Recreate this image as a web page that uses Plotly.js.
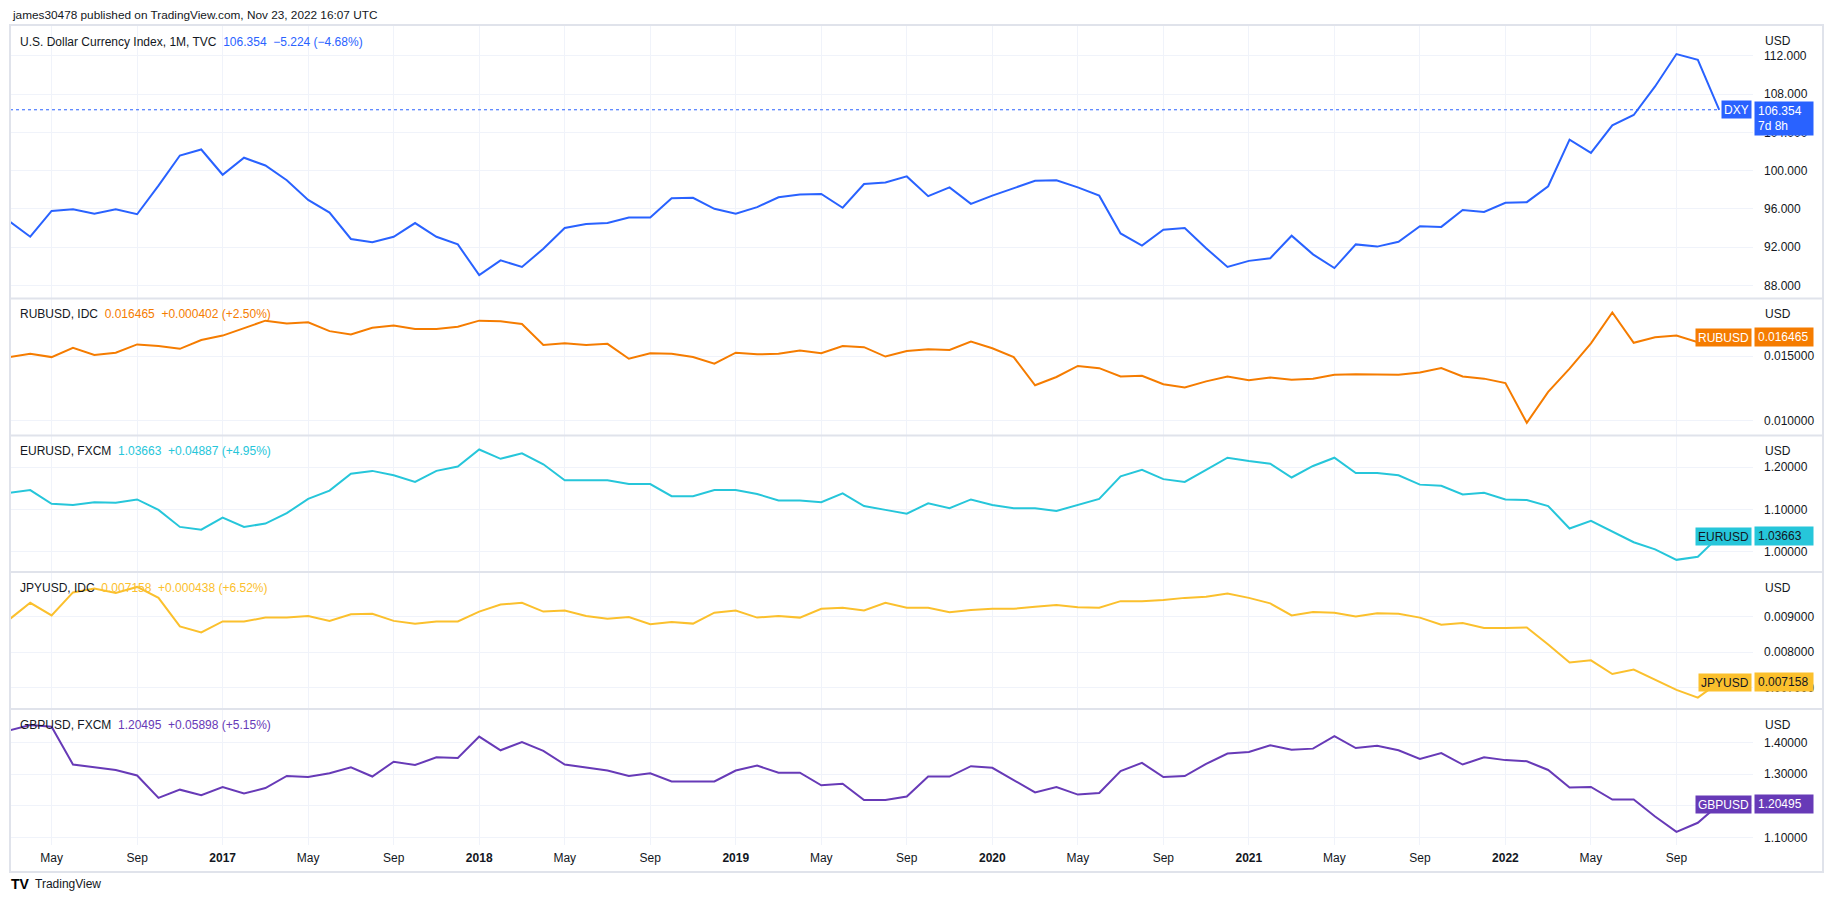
<!DOCTYPE html>
<html>
<head>
<meta charset="utf-8">
<script src="https://cdn.plot.ly/plotly-3.0.1.min.js"></script>
<style>html,body{margin:0;padding:0;background:#fff;}#chart{width:1834px;height:907px;}</style>
</head>
<body>
<div id="chart"></div>
<script>
// ---------- DATA ----------
const months = [
 '2016-03','2016-04','2016-05','2016-06','2016-07','2016-08','2016-09','2016-10','2016-11','2016-12',
 '2017-01','2017-02','2017-03','2017-04','2017-05','2017-06','2017-07','2017-08','2017-09','2017-10',
 '2017-11','2017-12','2018-01','2018-02','2018-03','2018-04','2018-05','2018-06','2018-07','2018-08',
 '2018-09','2018-10','2018-11','2018-12','2019-01','2019-02','2019-03','2019-04','2019-05','2019-06',
 '2019-07','2019-08','2019-09','2019-10','2019-11','2019-12','2020-01','2020-02','2020-03','2020-04',
 '2020-05','2020-06','2020-07','2020-08','2020-09','2020-10','2020-11','2020-12','2021-01','2021-02',
 '2021-03','2021-04','2021-05','2021-06','2021-07','2021-08','2021-09','2021-10','2021-11','2021-12',
 '2022-01','2022-02','2022-03','2022-04','2022-05','2022-06','2022-07','2022-08','2022-09','2022-10',
 '2022-11'];

const dxy = [
 94.76,93.10,95.79,95.96,95.50,95.96,95.45,98.43,101.58,102.21,
 99.57,101.35,100.54,99.00,96.94,95.62,92.87,92.53,93.10,94.53,
 93.10,92.30,89.09,90.63,89.95,91.84,94.01,94.42,94.53,95.10,
 95.10,97.11,97.16,96.02,95.50,96.19,97.22,97.51,97.57,96.13,
 98.60,98.77,99.40,97.34,98.25,96.53,97.39,98.14,98.94,99.00,
 98.25,97.39,93.44,92.18,93.84,94.01,91.90,89.95,90.58,90.86,
 93.21,91.26,89.83,92.30,92.07,92.58,94.19,94.13,95.90,95.68,
 96.65,96.71,98.37,103.24,101.86,104.73,105.81,108.79,112.17,111.578,
 106.354];

const rubusd = [
 0.014915,0.015171,0.014915,0.015641,0.015085,0.015256,0.015897,0.015769,0.015556,0.016239,
 0.016581,0.017137,0.017735,0.017521,0.017607,0.016923,0.016667,0.017179,0.017350,0.017094,
 0.017094,0.017265,0.017735,0.017692,0.017479,0.015855,0.015983,0.015855,0.015940,0.014786,
 0.015214,0.015171,0.014915,0.014402,0.015256,0.015128,0.015171,0.015427,0.015214,0.015769,
 0.015684,0.014957,0.015385,0.015513,0.015470,0.016111,0.015598,0.014915,0.012735,0.013376,
 0.014231,0.014060,0.013419,0.013462,0.012820,0.012564,0.013034,0.013419,0.013120,0.013333,
 0.013162,0.013248,0.013547,0.013590,0.013590,0.013547,0.013718,0.014060,0.013419,0.013248,
 0.012906,0.009829,0.012222,0.014017,0.015983,0.018376,0.016026,0.016453,0.016581,0.016063,
 0.016465];

const eurusd = [
 1.1390,1.1455,1.1130,1.1100,1.1170,1.1156,1.1234,1.0987,1.0584,1.0519,
 1.0805,1.0584,1.0662,1.0909,1.1247,1.1442,1.1844,1.1909,1.1805,1.1649,
 1.1909,1.2013,1.2416,1.2195,1.2325,1.2065,1.1688,1.1688,1.1688,1.1597,
 1.1597,1.1312,1.1312,1.1455,1.1455,1.1364,1.1208,1.1208,1.1169,1.1377,
 1.1078,1.0987,1.0896,1.1143,1.1026,1.1234,1.1104,1.1026,1.1026,1.0961,
 1.1104,1.1247,1.1779,1.1935,1.1714,1.1649,1.1935,1.2221,1.2143,1.2078,
 1.1753,1.2026,1.2221,1.1857,1.1857,1.1805,1.1584,1.1558,1.1351,1.1390,
 1.1234,1.1221,1.1078,1.0545,1.0727,1.0481,1.0221,1.0052,0.9805,0.98776,
 1.03663];

const jpyusd = [
 0.008908,0.009385,0.009031,0.009677,0.009785,0.009662,0.009831,0.009523,0.008723,0.008554,
 0.008862,0.008862,0.008969,0.008969,0.009015,0.008877,0.009062,0.009077,0.008877,0.008800,
 0.008862,0.008862,0.009138,0.009338,0.009385,0.009138,0.009169,0.009015,0.008938,0.008985,
 0.008785,0.008846,0.008800,0.009108,0.009169,0.008969,0.009015,0.008969,0.009215,0.009246,
 0.009169,0.009385,0.009246,0.009246,0.009123,0.009185,0.009215,0.009215,0.009277,0.009323,
 0.009262,0.009246,0.009431,0.009431,0.009462,0.009523,0.009554,0.009646,0.009523,0.009369,
 0.009031,0.009123,0.009108,0.009000,0.009092,0.009077,0.008969,0.008769,0.008815,0.008677,
 0.008677,0.008692,0.008215,0.007708,0.007769,0.007385,0.007508,0.007215,0.006938,0.006720,
 0.007158];

const gbpusd = [
 1.4381,1.4555,1.4503,1.3306,1.3220,1.3133,1.2959,1.2248,1.2509,1.2335,
 1.2595,1.2387,1.2561,1.2942,1.2907,1.3029,1.3220,1.2925,1.3393,1.3289,
 1.3532,1.3514,1.4191,1.3757,1.4017,1.3740,1.3306,1.3202,1.3116,1.2942,
 1.3029,1.2769,1.2769,1.2769,1.3116,1.3272,1.3046,1.3046,1.2647,1.2699,
 1.2179,1.2179,1.2292,1.2925,1.2925,1.3254,1.3202,1.2821,1.2422,1.2595,
 1.2353,1.2405,1.3098,1.3358,1.2907,1.2942,1.3324,1.3653,1.3705,1.3913,
 1.3774,1.3809,1.4208,1.3826,1.3896,1.3757,1.3480,1.3670,1.3306,1.3532,
 1.3445,1.3410,1.3133,1.2578,1.2595,1.2196,1.2196,1.1659,1.1173,1.14597,
 1.20495];

const xTickVals = ['2016-05','2016-09','2017-01','2017-05','2017-09','2018-01','2018-05','2018-09',
 '2019-01','2019-05','2019-09','2020-01','2020-05','2020-09','2021-01','2021-05','2021-09',
 '2022-01','2022-05','2022-09'];
const xTickText = ['May','Sep','<b>2017</b>','May','Sep','<b>2018</b>','May','Sep',
 '<b>2019</b>','May','Sep','<b>2020</b>','May','Sep','<b>2021</b>','May','Sep',
 '<b>2022</b>','May','Sep'];

const dxyTicks = [88, 92, 96, 100, 104, 108, 112];
const rubTicks = [0.010, 0.015];
const eurTicks = [1.0, 1.1, 1.2];
const jpyTicks = [0.007, 0.008, 0.009];
const gbpTicks = [1.1, 1.2, 1.3, 1.4];

const legends = [
 {name: 'U.S. Dollar Currency Index, 1M, TVC', quote: '106.354\u00a0\u00a0\u22125.224 (\u22124.68%)'},
 {name: 'RUBUSD, IDC', quote: '0.016465\u00a0\u00a0+0.000402 (+2.50%)'},
 {name: 'EURUSD, FXCM', quote: '1.03663\u00a0\u00a0+0.04887 (+4.95%)'},
 {name: 'JPYUSD, IDC', quote: '0.007158\u00a0\u00a0+0.000438 (+6.52%)'},
 {name: 'GBPUSD, FXCM', quote: '1.20495\u00a0\u00a0+0.05898 (+5.15%)'}
];
const labelNames = ['DXY', 'RUBUSD', 'EURUSD', 'JPYUSD', 'GBPUSD'];
const labelValues = ['106.354<br>7d 8h', '0.016465', '1.03663', '0.007158', '1.20495'];

// ---------- STYLE / LAYOUT ----------
const FONT = 'Liberation Sans, Arial, sans-serif';
const TXT = '#131722';
const GRID = '#f0f3fa';
const SEP = '#e0e3eb';
const colors = ['#2962ff', '#f57c00', '#26c6da', '#fbc02d', '#673ab7'];
const labelTextColors = ['#ffffff', '#ffffff', '#131722', '#131722', '#ffffff'];

const W = 1834, H = 907;
const L = 10, R = 1753, T = 25, B = 845;
const px = X => (X - L) / (R - L);
const py = Y => (B - Y) / (B - T);

// pane boundaries (pixels)
const paneTop = [25, 298.5, 435.5, 572, 709];
const paneBot = [298.5, 435.5, 572, 709, 845];
const ranges = [[86.653, 115.205], [0.008847, 0.019450], [0.95175, 1.27462], [0.006402, 0.01025], [1.07561, 1.50643]];
const tickSets = [dxyTicks, rubTicks, eurTicks, jpyTicks, gbpTicks];
const formats = ['.3f', '.6f', '.5f', '.6f', '.5f'];
const series = [dxy, rubusd, eurusd, jpyusd, gbpusd];
const lastVals = [106.354, 0.016465, 1.03663, 0.007158, 1.20495];

const data = series.map((s, i) => ({
  type: 'scatter', mode: 'lines', x: months, y: s,
  xaxis: 'x', yaxis: i === 0 ? 'y' : 'y' + (i + 1),
  line: {color: colors[i], width: 2}, hoverinfo: 'skip'
}));

const layout = {
  width: W, height: H,
  margin: {l: L, r: W - R, t: T, b: H - B, pad: 0},
  paper_bgcolor: '#ffffff', plot_bgcolor: '#ffffff',
  showlegend: false, hovermode: false,
  font: {family: FONT, size: 12, color: TXT},
  xaxis: {
    type: 'category', range: [0.054, 81.58], fixedrange: true,
    anchor: 'y5', tickmode: 'array', tickvals: xTickVals, ticktext: xTickText,
    showgrid: true, gridcolor: GRID, gridwidth: 1, zeroline: false, showline: false,
    ticks: '', tickfont: {family: FONT, size: 12, color: TXT}, ticklabelstandoff: 4
  },
  shapes: [], annotations: []
};

for (let i = 0; i < 5; i++) {
  const key = i === 0 ? 'yaxis' : 'yaxis' + (i + 1);
  layout[key] = {
    domain: [py(paneBot[i]), py(paneTop[i])],
    range: ranges[i], fixedrange: true, anchor: 'x', side: 'right',
    tickmode: 'array', tickvals: tickSets[i], tickformat: formats[i],
    showgrid: true, gridcolor: GRID, gridwidth: 1, zeroline: false, showline: false,
    ticks: '', tickfont: {family: FONT, size: 12, color: TXT}, ticklabelstandoff: 10
  };
  const yref = i === 0 ? 'y' : 'y' + (i + 1);

  // legend line at top-left of the pane
  layout.annotations.push({
    xref: 'paper', yref: 'paper', x: px(18), y: py(paneTop[i] + (i === 0 ? 17 : 15.5)),
    xanchor: 'left', yanchor: 'middle', showarrow: false,
    text: legends[i].name + '\u00a0\u00a0<span style="color:' + colors[i] + '">' + legends[i].quote + '</span>',
    font: {family: FONT, size: 12, color: TXT}
  });
  // "USD" unit label on the price scale
  layout.annotations.push({
    xref: 'paper', yref: 'paper', x: 1, xshift: 10, y: py(paneTop[i] + 15.5),
    xanchor: 'left', yanchor: 'middle', showarrow: false,
    text: 'USD', font: {family: FONT, size: 12, color: TXT}
  });
  // name label (left of price scale)
  layout.annotations.push({
    xref: 'paper', yref: yref, x: 1, xshift: -1, y: lastVals[i],
    xanchor: 'right', yanchor: 'middle', showarrow: false,
    text: labelNames[i], bgcolor: colors[i], borderpad: 2, height: 13,
    font: {family: FONT, size: 12, color: labelTextColors[i]}
  });
  // value label on price scale
  const two = i === 0;
  layout.annotations.push({
    xref: 'paper', yref: yref, x: 1, xshift: 1, y: lastVals[i],
    xanchor: 'left', yanchor: two ? 'top' : 'middle', yshift: two ? 8.5 : 0,
    showarrow: false, align: 'left', width: 52, height: two ? 27 : 12,
    text: labelValues[i], bgcolor: colors[i], borderpad: 3,
    font: {family: FONT, size: 12, color: labelTextColors[i]}
  });
}

// last-price dotted line for DXY
layout.shapes.push({
  type: 'line', xref: 'paper', yref: 'y', x0: 0, x1: px(1720), y0: 106.354, y1: 106.354,
  line: {color: colors[0], width: 1, dash: 'dot'}, layer: 'above'
});
// pane separators
for (let i = 1; i < 5; i++) {
  layout.shapes.push({
    type: 'line', xref: 'paper', yref: 'paper', x0: 0, x1: px(1823),
    y0: py(paneTop[i]), y1: py(paneTop[i]), line: {color: SEP, width: 2}, layer: 'above'
  });
}
// outer frame
layout.shapes.push({
  type: 'rect', xref: 'paper', yref: 'paper', x0: px(10), x1: px(1823), y0: py(872), y1: py(25),
  line: {color: SEP, width: 2}, fillcolor: 'rgba(0,0,0,0)', layer: 'above'
});

// header & footer
layout.annotations.push({
  xref: 'paper', yref: 'paper', x: px(10), y: py(15), xanchor: 'left', yanchor: 'middle',
  showarrow: false, text: 'james30478 published on TradingView.com, Nov 23, 2022 16:07 UTC',
  font: {family: FONT, size: 11.8, color: TXT}
});
layout.annotations.push({
  xref: 'paper', yref: 'paper', x: px(9), y: py(884), xanchor: 'left', yanchor: 'middle',
  showarrow: false, text: '<b>TV</b>', font: {family: FONT, size: 14, color: '#000000'}
});
layout.annotations.push({
  xref: 'paper', yref: 'paper', x: px(33), y: py(884), xanchor: 'left', yanchor: 'middle',
  showarrow: false, text: 'TradingView', font: {family: FONT, size: 12, color: TXT}
});

Plotly.newPlot('chart', data, layout, {displayModeBar: false, staticPlot: true});
</script>
</body>
</html>
